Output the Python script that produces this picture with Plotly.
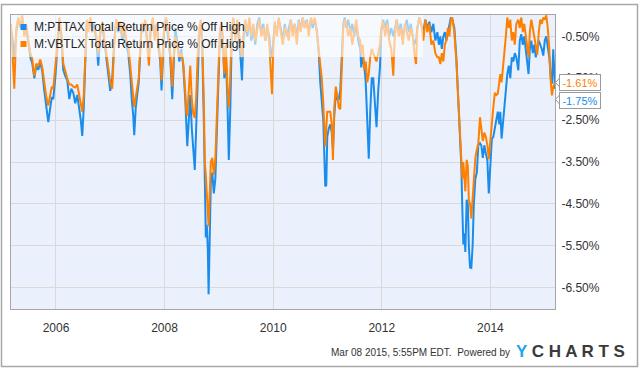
import pandas as pd
import plotly.graph_objects as go

# decimal-year dates of the weekly readings
dates_dec = [
    2005.171, 2005.204, 2005.232, 2005.269, 2005.306, 2005.343, 2005.379, 2005.416, 2005.453, 2005.490,
    2005.527, 2005.564, 2005.600, 2005.637, 2005.674, 2005.711, 2005.748, 2005.785, 2005.821, 2005.858,
    2005.895, 2005.923, 2005.950, 2005.987, 2006.024, 2006.061,
    2006.098, 2006.134, 2006.171, 2006.208, 2006.245, 2006.282, 2006.319, 2006.355, 2006.392, 2006.429,
    2006.457, 2006.484, 2006.512, 2006.540, 2006.567, 2006.595, 2006.632, 2006.669, 2006.705, 2006.742,
    2006.779, 2006.816, 2006.853, 2006.890, 2006.926, 2006.963, 2007.000, 2007.037, 2007.074, 2007.110,
    2007.147, 2007.184, 2007.221, 2007.258, 2007.295, 2007.331, 2007.368, 2007.396, 2007.424, 2007.442,
    2007.470, 2007.497, 2007.525, 2007.552, 2007.580, 2007.608, 2007.645, 2007.681, 2007.713, 2007.746,
    2007.783, 2007.820, 2007.856, 2007.893, 2007.921, 2007.945, 2007.967, 2007.994, 2008.031, 2008.068,
    2008.105, 2008.142, 2008.169, 2008.197,
    2008.234, 2008.271, 2008.308, 2008.344, 2008.381, 2008.400, 2008.418, 2008.446, 2008.473, 2008.501,
    2008.528, 2008.556, 2008.584, 2008.611, 2008.639, 2008.667, 2008.694, 2008.722, 2008.740, 2008.759,
    2008.777, 2008.796, 2008.810, 2008.832, 2008.851, 2008.878, 2008.906, 2008.934, 2008.961, 2008.989,
    2009.017, 2009.044,
    2009.072, 2009.099, 2009.127, 2009.155, 2009.182, 2009.210, 2009.238, 2009.265, 2009.302, 2009.339,
    2009.376, 2009.403, 2009.425, 2009.449, 2009.486, 2009.523, 2009.560, 2009.597, 2009.634, 2009.670,
    2009.707, 2009.744, 2009.781, 2009.818, 2009.855, 2009.891, 2009.928, 2009.956, 2009.978, 2010.002,
    2010.029,
    2010.066, 2010.103, 2010.140, 2010.177, 2010.214, 2010.250, 2010.287, 2010.324, 2010.361, 2010.398,
    2010.435, 2010.471, 2010.508, 2010.545, 2010.582, 2010.619, 2010.656, 2010.692, 2010.729, 2010.766,
    2010.803, 2010.840, 2010.867, 2010.895, 2010.923, 2010.941, 2010.959, 2010.978, 2010.996, 2011.024,
    2011.052, 2011.079, 2011.101, 2011.125, 2011.153, 2011.180, 2011.208, 2011.236, 2011.263, 2011.291,
    2011.319,
    2011.346, 2011.383, 2011.420, 2011.457, 2011.493, 2011.530, 2011.567, 2011.604, 2011.622, 2011.650,
    2011.678, 2011.705, 2011.733, 2011.761, 2011.788, 2011.816, 2011.843, 2011.871, 2011.904, 2011.935,
    2011.967, 2011.991, 2012.028, 2012.064, 2012.101, 2012.138, 2012.175, 2012.212, 2012.239, 2012.276,
    2012.313, 2012.350, 2012.387, 2012.424, 2012.460, 2012.497, 2012.534, 2012.571, 2012.598, 2012.630,
    2012.654, 2012.691, 2012.727, 2012.764, 2012.801, 2012.838, 2012.875, 2012.912, 2012.948, 2012.985,
    2013.022, 2013.050, 2013.077, 2013.105, 2013.133, 2013.160, 2013.188, 2013.215, 2013.243, 2013.271,
    2013.298,
    2013.335, 2013.372, 2013.400, 2013.440, 2013.464, 2013.482, 2013.501, 2013.519, 2013.538, 2013.562,
    2013.584, 2013.602, 2013.624, 2013.648, 2013.672, 2013.694, 2013.722, 2013.750, 2013.777, 2013.808,
    2013.832, 2013.860, 2013.888, 2013.915, 2013.943, 2013.970, 2013.998, 2014.026, 2014.053, 2014.081,
    2014.109, 2014.136, 2014.164, 2014.182, 2014.206, 2014.228, 2014.256, 2014.284, 2014.311, 2014.339,
    2014.366, 2014.394, 2014.422, 2014.449, 2014.477, 2014.514, 2014.541, 2014.569, 2014.597, 2014.624,
    2014.652, 2014.680, 2014.703, 2014.726, 2014.753, 2014.781, 2014.808, 2014.836, 2014.864, 2014.891,
    2014.919, 2014.947, 2014.974, 2015.002, 2015.029, 2015.057, 2015.085, 2015.112, 2015.134, 2015.158,
    2015.190,
]

# M:PTTAX Total Return Price % Off High
pttax = [
    -0.35, -0.6, -1.05, -0.4, -0.1, -0.25, -0.1, -0.45, -0.3, -0.7,
    -1.0, -1.15, -1.5, -1.2, -1.3, -1.1, -1.35, -1.8, -2.2, -2.55,
    -2.2, -1.95, -2.0, -1.5, -0.8, -0.15,
    -0.5, -1.3, -1.45, -1.55, -2.0, -1.75, -1.85, -2.1, -1.9, -2.2,
    -2.5, -2.88, -2.2, -1.1, -0.2, -0.3, -0.1, -0.4, -0.2, -0.6,
    -1.2, -0.45, -0.2, -0.6, -1.0, -1.3, -1.8, -1.5, -0.6, -0.1,
    -0.4, -0.2, -0.6, -0.3, -0.7, -0.9, -1.4, -2.0, -2.4, -2.86,
    -2.2, -1.9, -1.6, -0.9, -0.2, -0.4, -0.15, -0.6, -0.9, -0.3,
    -0.1, -0.5, -0.2, -0.8, -1.1, -1.79, -0.9, -0.3, -0.1, -0.5,
    -1.0, -2.0, -1.1, -0.3,
    -0.6, -1.1, -0.8, -1.2, -2.0, -2.9, -3.12, -2.5, -1.9, -2.7,
    -3.3, -3.69, -2.6, -1.2, -0.4, -0.2, -0.8, -2.5, -4.2, -5.3,
    -5.0, -5.6, -6.66, -5.3, -4.0, -3.75, -4.25, -3.9, -2.7, -1.5,
    -0.5, -0.2,
    -0.6, -1.5, -0.9, -2.0, -3.45, -2.2, -0.4, -0.1, -0.5, -0.2,
    -0.7, -1.1, -1.55, -0.6, -0.2, -0.5, -0.1, -0.6, -0.3, -0.7,
    -0.2, -0.05, -0.4, -0.2, -0.6, -0.3, -0.5, -0.9, -1.0, -0.6,
    -0.2,
    -0.4, -0.1, -0.3, -0.6, -0.2, -0.5, -0.3, -0.1, -0.4, -0.2,
    -0.5, -0.1, -0.3, -0.05, -0.3, -0.1, -0.4, -0.1, -0.3, -0.1,
    -0.35, -0.9, -1.6, -2.0, -2.5, -3.3, -4.08, -4.05, -2.9, -2.7,
    -2.6, -2.8, -3.2, -2.4, -1.9, -2.0, -2.0, -1.8, -1.0, -0.2,
    -0.05,
    -0.3, -0.1, -0.4, -0.2, -0.5, -0.2, -0.6, -0.8, -1.24, -1.0,
    -1.2, -1.6, -2.6, -3.42, -2.3, -1.5, -1.5, -2.0, -2.67, -1.8,
    -1.24, -0.4, -0.1, -0.3, -0.1, -0.5, -0.3, -0.5, -0.3, -0.1,
    -0.4, -0.2, -0.5, -0.3, -0.1, -0.4, -0.2, -0.5, -0.7, -0.6,
    -0.3, -0.05, -0.2, -0.4, -0.1, -0.3, -0.15, -0.4, -0.2, -0.6,
    -0.4, -0.7, -0.5, -0.8, -0.5, -0.4, -0.6, -0.4, -0.2, -0.05,
    -0.1,
    -0.3, -1.0, -1.8, -2.6, -3.6, -4.6, -5.47, -5.2, -5.65, -4.4,
    -4.5, -5.5, -6.02, -6.03, -5.5, -4.5, -3.9, -3.75, -3.1, -3.05,
    -3.1, -3.4, -3.1, -3.3, -3.45, -4.25, -3.6, -2.95, -2.9, -2.7,
    -2.5, -2.3, -2.6, -2.3, -2.94, -2.6, -2.24, -1.9, -1.4, -1.2,
    -1.5, -1.0, -1.1, -0.9, -1.0, -1.31, -0.6, -0.45, -0.7, -0.5,
    -0.8, -1.1, -1.4, -0.8, -0.6, -0.9, -0.7, -1.0, -0.8, -0.6,
    -0.7, -0.8, -0.96, -0.6, -0.5, -0.7, -1.0, -1.5, -1.63, -0.81,
    -1.75,
]

# M:VBTLX Total Return Price % Off High
vbtlx = [
    -0.2, -0.9, -1.75, -0.3, -0.05, -0.3, 0.0, -0.5, -0.2, -0.6,
    -0.9, -1.05, -1.45, -1.15, -1.2, -1.05, -1.25, -1.6, -1.95, -2.15,
    -1.9, -1.7, -1.75, -1.3, -0.7, -0.05,
    -0.4, -1.15, -1.35, -1.5, -1.65, -1.65, -1.7, -1.72, -1.65, -1.9,
    -2.1, -2.3, -1.9, -1.0, -0.1, -0.4, -0.05, -0.3, -0.35, -0.5,
    -0.9, -0.4, -0.15, -0.55, -0.9, -1.2, -1.6, -1.75, -0.7, -0.1,
    -0.3, -0.15, -0.5, -0.2, -0.6, -0.7, -1.2, -1.7, -2.1, -2.19,
    -1.95, -1.75, -1.5, -0.8, -0.2, -0.3, -0.1, -0.7, -1.2, -0.3,
    -0.05, -0.6, -0.2, -0.7, -1.0, -1.55, -0.8, -0.2, -0.05, -0.4,
    -0.9, -1.7, -1.0, -0.5,
    -0.7, -1.0, -0.9, -1.15, -1.8, -2.3, -2.4, -1.6, -1.2, -2.0,
    -2.35, -2.45, -1.9, -0.9, -0.3, -0.1, -0.7, -2.0, -3.5, -3.8,
    -4.3, -4.6, -5.04, -4.2, -3.5, -3.4, -3.8, -3.4, -2.3, -1.2,
    -0.4, -0.15,
    -0.5, -1.4, -0.7, -1.7, -2.2, -1.4, -0.3, -0.05, -0.6, -0.1,
    -0.5, -0.8, -1.0, -0.5, -0.1, -0.4, -0.05, -0.5, -0.2, -0.6,
    -0.3, -0.1, -0.5, -0.3, -0.6, -0.2, -0.7, -1.3, -1.88, -0.8,
    -0.15,
    -0.5, -0.05, -0.4, -0.7, -0.3, -0.4, -0.6, -0.1, -0.5, -0.2,
    -0.7, -0.15, -0.4, -0.05, -0.3, -0.15, -0.5, -0.05, -0.2, -0.05,
    -0.4, -0.9, -1.2, -1.5, -2.1, -2.6, -3.13, -2.7, -2.3, -2.3,
    -2.3, -2.6, -3.45, -2.2, -1.7, -1.9, -2.2, -2.24, -1.3, -0.3,
    -0.1,
    -0.2, -0.5, -0.3, -0.7, -0.4, -0.1, -0.5, -0.6, -0.9, -0.7,
    -1.3, -1.1, -1.6, -1.4, -1.0, -0.8, -0.9, -1.0, -1.1, -0.9,
    -0.7, -0.3, -0.15, -0.5, -0.2, -0.6, -0.8, -1.44, -0.5, -0.1,
    -0.5, -0.3, -0.7, -0.2, -0.4, -0.6, -0.3, -0.5, -0.9, -1.16,
    -0.3, -0.05, -0.2, -0.6, -0.1, -0.4, -0.2, -0.7, -0.6, -0.9,
    -1.0, -1.0, -1.16, -0.9, -1.1, -0.7, -0.6, -0.3, -0.5, -0.1,
    -0.05,
    -0.4, -1.1, -1.8, -2.55, -3.3, -3.9, -3.5, -3.9, -4.2, -3.45,
    -3.6, -4.4, -4.5, -4.85, -4.4, -3.9, -3.4, -3.2, -3.06, -2.43,
    -2.7, -3.0, -2.8, -2.9, -3.1, -3.43, -3.0, -2.48, -2.2, -1.85,
    -1.9, -1.87, -1.6, -1.4, -1.6, -1.2, -0.9, -0.5, -0.05, -0.3,
    -0.1, -0.6, -0.4, -0.7, -0.2, -0.1, -0.3, -0.05, -0.4, -0.2,
    -0.5, -0.8, -1.0, -0.4, -0.1, -0.3, -0.5, -0.8, -0.94, -0.4,
    -0.1, -0.2, -0.05, -0.1, 0.0, -0.3, -0.8, -1.6, -1.91, -1.7,
    -1.61,
]

year_ticks = ["2006", "2008", "2010", "2012", "2014"]
y_ticks = [-0.5, -1.5, -2.5, -3.5, -4.5, -5.5, -6.5]
y_tick_text = ["-0.50%", "-1.50%", "-2.50%", "-3.50%", "-4.50%", "-5.50%", "-6.50%"]
series_names = ["M:PTTAX Total Return Price % Off High", "M:VBTLX Total Return Price % Off High"]
last_values = ["-1.61%", "-1.75%"]

BLUE = "#1a8cec"
ORANGE = "#ff8000"


def dec_to_ts(d):
    y = int(d)
    start = pd.Timestamp(y, 1, 1)
    end = pd.Timestamp(y + 1, 1, 1)
    return start + (d - y) * (end - start)


dates = [dec_to_ts(d) for d in dates_dec]

fig = go.Figure()
fig.add_trace(go.Scatter(x=dates, y=pttax, mode="lines", name=series_names[0],
                         line=dict(color=BLUE, width=2), hoverinfo="skip"))
fig.add_trace(go.Scatter(x=dates, y=vbtlx, mode="lines", name=series_names[1],
                         line=dict(color=ORANGE, width=2), hoverinfo="skip"))

L, R, T, B = 11, 85, 15, 59
PW, PH = 640 - L - R, 368 - T - B


def px(xp):
    return (xp - L) / PW


def py(yp):
    return (368 - B - yp) / PH


shapes = [
    # translucent legend panel over the lines
    dict(type="rect", xref="paper", yref="paper", x0=0, x1=px(423), y0=py(57), y1=1,
         fillcolor="rgba(255,255,255,0.58)", line=dict(width=0), layer="above"),
    # legend colour squares
    dict(type="rect", xref="paper", yref="paper", x0=px(20.5), x1=px(26.5), y0=py(30), y1=py(24),
         fillcolor=BLUE, line=dict(width=0), layer="above"),
    dict(type="rect", xref="paper", yref="paper", x0=px(20.5), x1=px(26.5), y0=py(47), y1=py(41),
         fillcolor=ORANGE, line=dict(width=0), layer="above"),
    # outer frame
    dict(type="rect", xref="paper", yref="paper", x0=px(1.5), x1=px(637.5), y0=py(366.5), y1=py(4.5),
         fillcolor="rgba(0,0,0,0)", line=dict(color="#a8a8a8", width=1.5), layer="below"),
]
# pointers of the last-value labels
for yc in (82.5, 99.5):
    shapes.append(dict(type="path", xref="paper", yref="paper",
                       path=f"M {px(560)} {py(yc - 5)} L {px(555.5)} {py(yc)} L {px(560)} {py(yc + 5)} Z",
                       fillcolor="white", line=dict(color="#9a9a9a", width=1), layer="above"))

annotations = [
    dict(xref="paper", yref="paper", x=px(32.5), y=py(27), xanchor="left", yanchor="middle",
         text=series_names[0], showarrow=False, borderpad=0, font=dict(size=12, color="#222")),
    dict(xref="paper", yref="paper", x=px(32.5), y=py(44), xanchor="left", yanchor="middle",
         text=series_names[1], showarrow=False, borderpad=0, font=dict(size=12, color="#222")),
    dict(xref="paper", yref="paper", x=px(559), y=py(82.5), xanchor="left", yanchor="middle",
         text=last_values[0], showarrow=False, bgcolor="white", bordercolor="#9a9a9a", borderwidth=1,
         borderpad=2, width=36, height=11, font=dict(size=11, color=ORANGE)),
    dict(xref="paper", yref="paper", x=px(559), y=py(100), xanchor="left", yanchor="middle",
         text=last_values[1], showarrow=False, bgcolor="white", bordercolor="#9a9a9a", borderwidth=1,
         borderpad=2, width=36, height=11, font=dict(size=11, color=BLUE)),
    dict(xref="paper", yref="paper", x=px(511), y=py(352), xanchor="right", yanchor="middle",
         text="Mar 08 2015, 5:55PM EDT.  Powered by", showarrow=False, borderpad=0,
         font=dict(size=10, color="#333")),
    dict(xref="paper", yref="paper", x=px(515), y=py(351), xanchor="left", yanchor="middle",
         text='<span style="color:#22a7e6">Y</span> C H A R T S', showarrow=False, borderpad=0,
         font=dict(size=17, color="#3a3a3a", weight="bold")),
]

fig.update_layout(
    width=640, height=368,
    margin=dict(l=L, r=R, t=T, b=B),
    paper_bgcolor="white",
    plot_bgcolor="#eaf1fc",
    showlegend=False,
    hovermode=False,
    font=dict(family="Liberation Sans, Arial, sans-serif", size=12, color="#333"),
    shapes=shapes,
    annotations=annotations,
)
fig.update_xaxes(
    type="date",
    range=[dec_to_ts(dates_dec[0]), dec_to_ts(dates_dec[-1])],
    tickvals=[f"{y}-01-01" for y in year_ticks],
    ticktext=year_ticks,
    showgrid=True, gridcolor="#d9d9d9", gridwidth=1,
    showline=True, mirror=True, linecolor="#a6a6a6", linewidth=1,
    ticks="", ticklabelstandoff=8, zeroline=False,
    tickfont=dict(size=12, color="#333"),
)
fig.update_yaxes(
    side="right",
    range=[-7.01, 0.01],
    tickvals=y_ticks,
    ticktext=y_tick_text,
    showgrid=True, gridcolor="#d9d9d9", gridwidth=1,
    showline=True, mirror=True, linecolor="#a6a6a6", linewidth=1,
    ticks="", ticklabelstandoff=3, zeroline=False,
    tickfont=dict(size=12, color="#333"),
)

fig.write_html("out.html", config={"displayModeBar": False},
               post_script="document.body.style.margin='0';document.body.style.padding='0';")
